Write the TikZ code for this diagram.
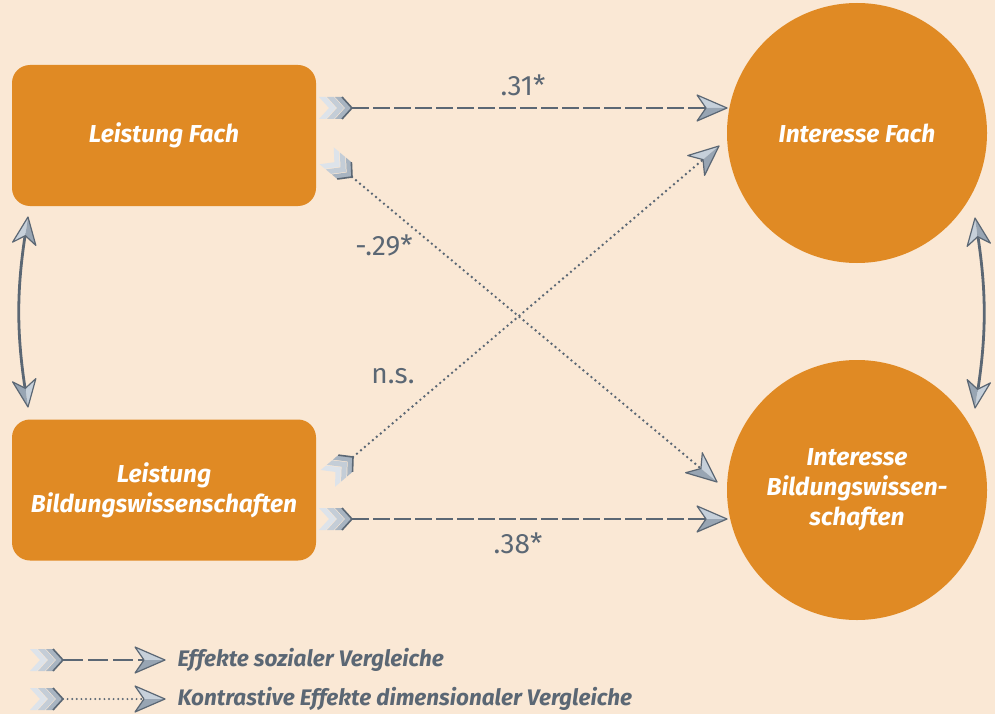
\documentclass[tikz,border=0pt]{standalone}
\usepackage{fontspec}
\setmainfont{Fira Sans}
\usetikzlibrary{calc}

\definecolor{bg}{HTML}{FAE8D5}
\definecolor{boxorange}{HTML}{E08A24}
\definecolor{slate}{HTML}{5B6774}
\definecolor{headlight}{HTML}{C6D0DA}
\definecolor{headdark}{HTML}{98A5B3}
\definecolor{fa}{HTML}{DDE3EA}
\definecolor{fb}{HTML}{C4CDD7}
\definecolor{fc}{HTML}{A8B4C1}

\tikzset{
  x=1pt, y=-1pt,
  box/.style={fill=boxorange, rounded corners=18pt, minimum width=304pt,
    minimum height=141pt, text=white, align=center,
    font=\bfseries\itshape\fontsize{24.5}{30}\selectfont},
  bubble/.style={circle, fill=boxorange, minimum size=260pt, inner sep=0pt,
    text=white, align=center,
    font=\bfseries\itshape\fontsize{24.5}{30}\selectfont},
  social/.style={draw=slate, line width=2.6pt, dash pattern=on 17pt off 4pt},
  contrast/.style={draw=slate, line width=2.7pt, line cap=round,
    dash pattern=on 0pt off 5.2pt},
  corr/.style={draw=slate, line width=2.8pt},
  coef/.style={text=slate, font=\fontsize{28}{32}\selectfont},
  legendtext/.style={text=slate, anchor=west,
    font=\bfseries\itshape\fontsize{22.5}{26}\selectfont},
  % two-tone arrow head, tip at the origin, pointing along +x
  pics/headtip/.style={code={
    \fill[headlight] (0,0) -- (-30,-13) -- (-21,0) -- cycle;
    \fill[headdark] (0,0) -- (-30,13) -- (-21,0) -- cycle;
    \draw[slate, line width=1.2pt, line join=round]
      (0,0) -- (-30,-13) -- (-21,0) -- (-30,13) -- cycle;
  }},
  % three stacked chevrons as the tail, front point at the origin
  pics/feather/.style={code={
    \foreach \d/\c in {-16/fa,-8/fb,0/fc} {
      \fill[\c] (\d,0) -- (\d-10,-11) -- (\d-17,-11) -- (\d-7,0)
        -- (\d-17,11) -- (\d-10,11) -- cycle;
    }
    \draw[slate, line width=1.6pt, line join=round] (-10,-11) -- (0,0) -- (-10,11);
  }},
}

\begin{document}
\begin{tikzpicture}
  \fill[bg] (0,0) rectangle (995,714);
  \useasboundingbox (0,0) rectangle (995,714);

  % variables
  \node[box] (lf) at (164,135.5) {Leistung Fach};
  \node[box] (lb) at (164,490) {Leistung\\Bildungswissenschaften};
  \node[bubble] (if) at (857,133) {Interesse Fach};
  \node[bubble] (ib) at (857,490) {Interesse\\Bildungswissen-\\schaften};

  % connector ends
  \coordinate (t1) at (352,108);  \coordinate (h1) at (727,108);
  \coordinate (t2) at (352,177);  \coordinate (h2) at (717,482);
  \coordinate (t3) at (353,457);  \coordinate (h3) at (719,146);
  \coordinate (t4) at (352,519);  \coordinate (h4) at (727,519);

  % social comparison effects
  \draw[social, shorten >=22pt] (t1) -- (h1);
  \draw[social, shorten >=22pt] (t4) -- (h4);
  % dimensional comparison effects
  \draw[contrast, shorten >=22pt] (t2) -- (h2);
  \draw[contrast, shorten >=22pt] (t3) -- (h3);

  \pic at (t1) {feather};  \pic at (h1) {headtip};
  \pic at (t4) {feather};  \pic at (h4) {headtip};
  \pic[rotate=-39.9] at (t2) {feather};  \pic[rotate=-39.9] at (h2) {headtip};
  \pic[rotate=40.4] at (t3) {feather};   \pic[rotate=40.4] at (h3) {headtip};

  % correlations
  \coordinate (la) at (28,217);  \coordinate (lz) at (28,407);
  \coordinate (ra) at (975,218); \coordinate (rz) at (975,408);
  \draw[corr, shorten <=14pt, shorten >=14pt] (la) to[bend right=9] (lz);
  \draw[corr, shorten <=14pt, shorten >=14pt] (ra) to[bend left=9] (rz);
  \pic[rotate=82, scale=0.9] at (la) {headtip};
  \pic[rotate=-82, scale=0.9] at (lz) {headtip};
  \pic[rotate=98, scale=0.9] at (ra) {headtip};
  \pic[rotate=-98, scale=0.9] at (rz) {headtip};

  % coefficients
  \node[coef] (c1) at (523,85) {.31*};
  \node[coef] (c2) at (384,245) {-.29*};
  \node[coef] (c3) at (393,376) {n.s.};
  \node[coef] (c4) at (518,543) {.38*};

  % legend
  \coordinate (g1t) at (63,660);  \coordinate (g1h) at (165,660);
  \coordinate (g2t) at (63,699);  \coordinate (g2h) at (165,699);
  \draw[social, dash pattern=on 20pt off 5pt, shorten >=22pt] (g1t) -- (g1h);
  \draw[contrast, dash pattern=on 0pt off 4.6pt, line width=2.2pt, shorten >=22pt] (g2t) -- (g2h);
  \pic at (g1t) {feather};  \pic at (g1h) {headtip};
  \pic at (g2t) {feather};  \pic at (g2h) {headtip};
  \node[legendtext] (k1) at (174,660) {Effekte sozialer Vergleiche};
  \node[legendtext] (k2) at (174,699) {Kontrastive Effekte dimensionaler Vergleiche};
\end{tikzpicture}
\end{document}
